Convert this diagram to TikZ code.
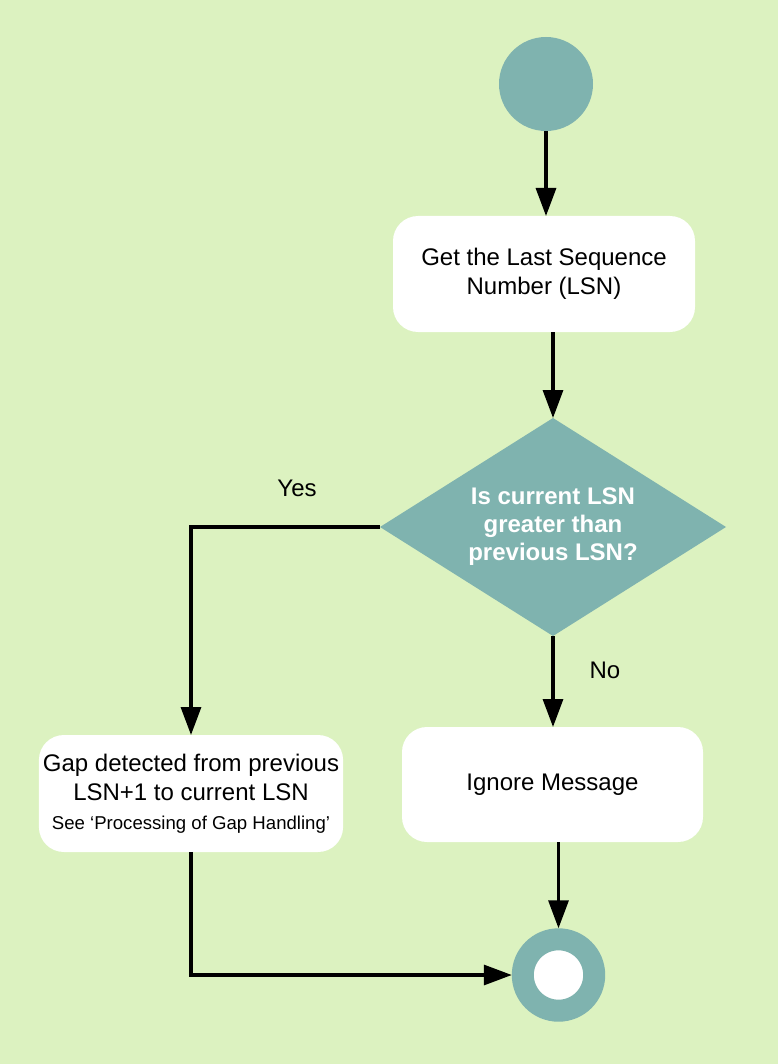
\documentclass[tikz,border=0pt]{standalone}
\usepackage{fontspec}
\setmainfont{Liberation Sans}
\usepackage{tikz}
\usetikzlibrary{shapes.geometric, arrows.meta, positioning}
\definecolor{bggreen}{RGB}{220,242,192}
\definecolor{flowteal}{RGB}{127,179,175}
\tikzset{
	>={Triangle[length=14pt,width=10pt]}, % big black arrow heads
	flow/.style={->, line width=1.6pt}, % every connector
	every node/.style={outer sep=0pt, font=\fontsize{12}{14.5}\selectfont}, % text size for all nodes
	action/.style={rectangle, rounded corners=12.5pt, fill=white, minimum width=151pt, minimum height=58pt, inner xsep=2pt, align=center}, % white rounded boxes
	decision/.style={diamond, aspect=1.6, fill=flowteal, text=white, font=\bfseries\fontsize{12}{14}\selectfont, minimum width=173pt, minimum height=109pt, inner sep=0pt, align=center}, % teal question
	startnode/.style={circle, fill=flowteal, minimum size=47pt, inner sep=0pt}, % initial dot
	endnode/.style={circle, fill=white, draw=flowteal, line width=11pt, minimum size=35.7pt, inner sep=0pt, outer sep=5.5pt}, % final ring
}

\begin{document}
\begin{tikzpicture}[x=0.5pt, y=-0.5pt]
	\useasboundingbox (0,0) rectangle (778,1064);
	\fill[bggreen] (0,0) rectangle (778,1064);

	\node[startnode] (start) at (546,84) {};
	\node[action, minimum height=58pt] (getlsn) at (544,274) {Get the Last Sequence\\Number (LSN)};
	\node[decision] (check) at (553,527) {Is current LSN\\greater than\\previous LSN?};
	\node[action, minimum width=150.5pt, minimum height=57.5pt] (ignore) at (552.5,784.5) {Ignore Message};
	\node[action, minimum height=58.5pt] (gap) at (191,793.5) {Gap detected from previous\\LSN+1 to current LSN\\[0pt]{\fontsize{9.3}{11}\selectfont See ‘Processing of Gap Handling’}};
	\node[endnode] (stop) at (558.5,975) {};
	\node (yes) at (297,488) {Yes};
	\node (no) at (605,670) {No};

	\draw[flow] (start.south) -- (start.south |- getlsn.north);
	\draw[flow] (getlsn.south -| check.north) -- (check.north);
	\draw[flow] (check.west) -| (gap.north);
	\draw[flow] (check.south) -- (check.south |- ignore.north);
	\draw[flow] (ignore.south -| stop.north) -- (stop.north);
	\draw[flow] (gap.south) |- (stop.west);
\end{tikzpicture}
\end{document}
